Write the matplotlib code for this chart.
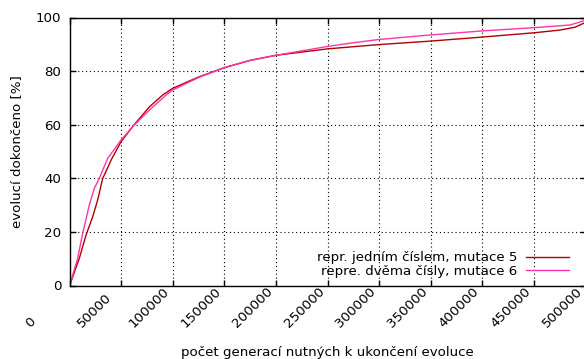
import matplotlib
matplotlib.use('Agg')
import matplotlib.pyplot as plt
from matplotlib.transforms import ScaledTranslation

# number of generations needed to finish the evolution vs. share of finished runs [%]
gen_one = [0, 9400, 15900, 22400, 27200, 32100, 37000, 40200, 49900, 62800, 77400,
           90300, 100000, 125000, 150000, 175000, 200000, 250000, 300000, 350000,
           400000, 450000, 475000, 490000, 500000]
done_one = [0, 10.1, 18.8, 25.7, 31.9, 40.0, 44.0, 46.8, 53.7, 60.1, 66.7,
            71.1, 73.6, 77.8, 81.3, 84.0, 85.9, 88.3, 89.9, 91.2,
            92.7, 94.3, 95.3, 96.4, 98.2]

gen_two = [0, 7800, 12700, 19100, 24000, 28800, 32100, 37000, 49900, 61200, 77400,
           93600, 100000, 125000, 150000, 175000, 200000, 250000, 275000, 300000,
           350000, 400000, 450000, 485000, 500000]
done_two = [0, 10.1, 19.5, 30.0, 36.3, 40.0, 43.1, 47.5, 54.3, 59.3, 65.5,
            71.1, 73.0, 77.6, 81.3, 84.0, 85.9, 89.2, 90.6, 91.8,
            93.5, 95.0, 96.2, 97.2, 99.0]

labels = ['repr. jedním číslem, mutace 5', 'repre. dvěma čísly, mutace 6']
x_ticks = list(range(0, 500001, 50000))
y_ticks = [0, 20, 40, 60, 80, 100]

fs = 9.6
fig = plt.figure(figsize=(5.84, 3.59), dpi=100)
ax = fig.add_axes([69.6 / 584, (359 - 285.5) / 359, 516 / 584, 268 / 359])

ax.plot(gen_one, done_one, color='#b30000', lw=1.0, label=labels[0])
ax.plot(gen_two, done_two, color='#ff33aa', lw=1.0, label=labels[1])

ax.set_xlim(0, 500000)
ax.set_ylim(0, 100)
ax.set_xticks(x_ticks)
ax.set_xticklabels([str(t) for t in x_ticks])
ax.set_yticks(y_ticks)
ax.grid(True, color='black', linestyle=(0, (1, 2.5)), lw=0.8)
for s in ax.spines.values():
    s.set_linewidth(1.0)
    s.set_color('black')

ax.tick_params(axis='both', direction='in', length=4, width=1.0, labelsize=fs,
               top=True, right=True)
ax.tick_params(axis='y', pad=6)
ax.tick_params(axis='x', pad=0)

# gnuplot style rotated labels, shifted down-left from the tick
off = ScaledTranslation(-0.39, -0.43, fig.dpi_scale_trans)
for lab in ax.get_xticklabels():
    lab.set_rotation(45)
    lab.set_rotation_mode('anchor')
    lab.set_ha('left')
    lab.set_va('baseline')
    lab.set_transform(lab.get_transform() + off)

ax.set_ylabel('evolucí dokončeno [%]', fontsize=fs)
ax.yaxis.set_label_coords(-0.090, 0.5)
ax.set_xlabel('počet generací nutných k ukončení evoluce', fontsize=fs)
ax.xaxis.set_label_coords(0.5, -0.225)

ax.legend(loc='lower right', bbox_to_anchor=((569 - 69.6) / 516, (285.5 - 278) / 268),
          frameon=False, markerfirst=False, fontsize=fs, borderaxespad=0,
          borderpad=0, handlelength=3.2, handletextpad=0.7, labelspacing=0.05)

fig.savefig('out.png', dpi=100)
